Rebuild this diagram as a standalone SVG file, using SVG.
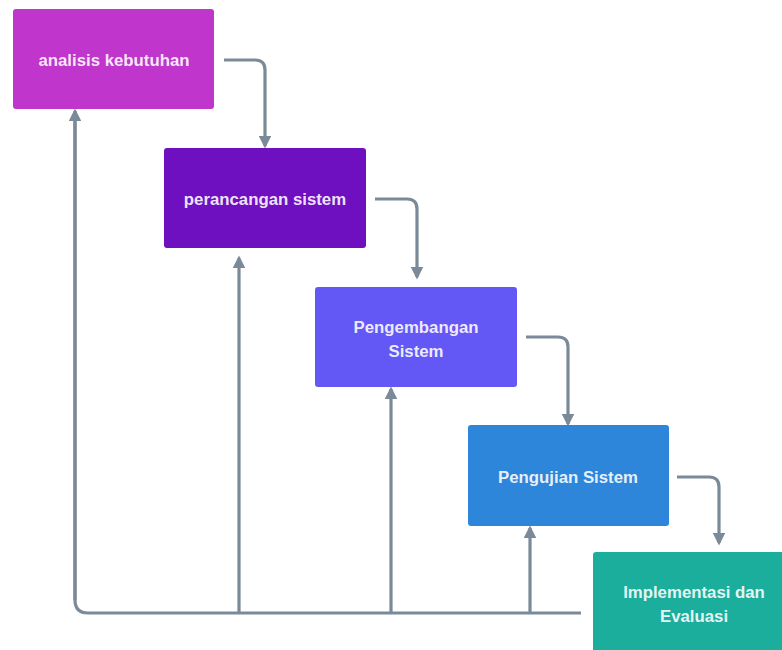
<svg xmlns="http://www.w3.org/2000/svg" width="782" height="650" viewBox="0 0 782 650">
<style>
.box{stroke:none}
.t{font-family:"Liberation Sans",Arial,sans-serif;font-weight:bold;font-size:16.8px;fill:#ffffff;fill-opacity:0.9;text-anchor:middle}
.c{fill:none;stroke:#7b8a98;stroke-width:3.2;marker-end:url(#ah)}
.f{fill:none;stroke:#7b8a98;stroke-width:3.2}
</style>
<defs>
<marker id="ah" viewBox="0 0 10 10" refX="8" refY="5" markerWidth="4" markerHeight="4" orient="auto" markerUnits="strokeWidth">
<path d="M0,0 L10,5 L0,10 z" fill="#7b8a98"/>
</marker>
</defs>
<rect width="782" height="650" fill="#ffffff"/>
<g id="connectors">
<path class="c" d="M224,60 H255 Q265,60 265,70 V146"/>
<path class="c" d="M375,199 H407 Q417,199 417,209 V277"/>
<path class="c" d="M526,337 H558 Q568,337 568,347 V424"/>
<path class="c" d="M677,477 H709 Q719,477 719,487 V543"/>
<path class="f" d="M581,613 H88 Q75,613 75,600 V118"/>
<path class="c" d="M75,600 V111"/>
<path class="c" d="M239,613 V258"/>
<path class="c" d="M391,613 V389"/>
<path class="c" d="M530,613 V528"/>
</g>
<g id="n1">
<rect class="box" x="13" y="9" width="201" height="100" rx="3" fill="#c035cc"/>
<text class="t" x="114" y="66">analisis kebutuhan</text>
</g>
<g id="n2">
<rect class="box" x="164" y="148" width="202" height="100" rx="3" fill="#6e10bf"/>
<text class="t" x="265" y="205">perancangan sistem</text>
</g>
<g id="n3">
<rect class="box" x="315" y="287" width="202" height="100" rx="3" fill="#6357f5"/>
<text class="t" x="416" y="333">Pengembangan</text>
<text class="t" x="416" y="357">Sistem</text>
</g>
<g id="n4">
<rect class="box" x="468" y="425" width="201" height="101" rx="3" fill="#2e86da"/>
<text class="t" x="568" y="483">Pengujian Sistem</text>
</g>
<g id="n5">
<rect class="box" x="593" y="552" width="195" height="105" rx="3" fill="#1bae9c"/>
<text class="t" x="694" y="598">Implementasi dan</text>
<text class="t" x="694" y="622">Evaluasi</text>
</g>
</svg>
